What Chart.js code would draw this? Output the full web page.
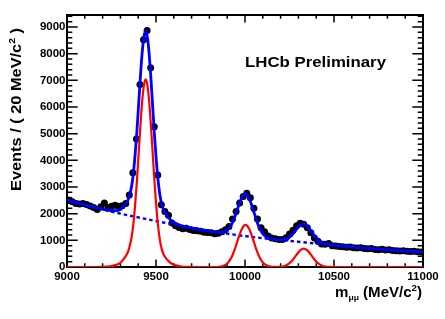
<!DOCTYPE html>
<html><head><meta charset="utf-8">
<script src="https://cdn.jsdelivr.net/npm/chart.js@4/dist/chart.umd.min.js"></script>
<style>html,body{margin:0;padding:0;background:#fff;}#wrap{width:445px;height:319px;position:relative;}</style>
</head><body><div id="wrap"><canvas id="c"></canvas></div>
<script>
// Binning of the dimuon mass histogram (MeV/c^2)
const binLow = 9000, binWidth = 20;
// Events per 20 MeV/c^2 bin, 9000-11000
const counts = [2510,2450,2380,2360,2380, 2340,2290,2230,2160,2260,
  2400,2230,2280,2320,2280, 2300,2380,2700,3530,4800,
  6840,8520,8870,7470,5260, 3450,2330,2080,1940,1650,
  1550,1480,1430,1450,1410, 1370,1360,1340,1300,1290,
  1280,1250,1270,1320,1400, 1520,1800,2080,2400,2640,
  2770,2600,2200,1800,1470, 1320,1160,1090,1060,1030,
  1030,1100,1240,1380,1550, 1640,1600,1470,1280,1090,
  970,860,850,880,800, 790,770,760,740,750,
  720,710,720,690,680, 690,660,650,670,640,
  650,620,610,600,610, 590,580,590,570,560];
// Total fit (solid blue)
const fitMass = [9000,9100,9192,9242,9272,9302,9322,9342,9352,9362,9372,9382,9392,9402,9412,9422,9432,9442,9452,9462,9472,9482,9492,9502,9512,9522,9532,9542,9562,9582,9612,9642,9692,9750,9820,9853,9883,9903,9923,9943,9963,9983,10003,10023,10043,10063,10083,10103,10123,10153,10180,10210,10230,10250,10270,10290,10310,10330,10350,10370,10390,10410,10430,10450,10480,10530,10600,10700,10800,10900,11000];
const fitTotal = [2510,2330,2178,2118,2115,2167,2299,2501,2707,2993,3459,4155,5021,6057,7094,8010,8627,8843,8600,7956,7013,5949,4886,3972,3229,2695,2362,2148,1921,1764,1634,1555,1473,1405,1330,1304,1320,1396,1577,1885,2275,2612,2738,2579,2208,1784,1442,1227,1117,1050,1027,1023,1048,1119,1249,1417,1563,1615,1536,1363,1169,1014,917,866,831,797,756,701,650,604,560];
// Signal components Y(1S), Y(2S), Y(3S) (red)
const sigMass = [9000,9150,9192,9242,9272,9302,9322,9342,9352,9362,9372,9382,9392,9402,9412,9422,9432,9442,9452,9462,9472,9482,9492,9502,9512,9522,9532,9542,9562,9582,9612,9642,9692,9750,9820,9853,9883,9903,9923,9943,9963,9983,10003,10023,10043,10063,10083,10103,10123,10153,10180,10210,10230,10250,10270,10290,10310,10330,10350,10370,10390,10410,10430,10450,10480,10530,11000];
const sigValues = [0,0,4,25,70,170,330,560,780,1080,1560,2270,3150,4200,5250,6180,6810,7040,6810,6180,5250,4200,3150,2250,1520,1000,680,480,280,150,60,20,3,0,0,7,53,149,348,674,1082,1437,1580,1437,1082,674,348,149,53,7,3,20,58,142,284,465,625,690,625,465,284,142,58,20,3,0,0];
// Background component (dashed blue)
const bkgMass = [9000,9100,9200,9300,9400,9500,9600,9700,9800,9900,10000,10100,10200,10300,10400,10500,10600,10700,10800,10900,11000];
const bkgValues = [2510,2330,2160,2000,1860,1725,1590,1460,1350,1250,1160,1080,1010,945,878,815,756,701,650,604,560];
// Axis ticks
const xTicks = [9000,9500,10000,10500,11000];
const yTicks = [0,1000,2000,3000,4000,5000,6000,7000,8000,9000];
const xRange = [9000, 11000], yRange = [0, 9450];

const FONT = '"Liberation Sans", Arial, Helvetica, sans-serif';
const pts = (xs, ys) => xs.map((x, i) => ({x, y: ys[i]}));
const dataPts = counts.map((c, i) => ({x: binLow + binWidth * (i + 0.5), y: c}));

// draw a run of text pieces (with sub/superscripts) stretched to a target length
function drawRich(ctx, parts, target) {
  let total = 0;
  parts.forEach(p => { ctx.font = p.f + FONT; p.w = ctx.measureText(p.t).width; total += p.w; });
  const k = target / total;
  ctx.save();
  ctx.scale(k, 1);
  let x = 0;
  parts.forEach(p => { ctx.font = p.f + FONT; ctx.fillText(p.t, x, p.dy); x += p.w; });
  ctx.restore();
}

const rootPlugin = {
  id: 'rootStyle',
  beforeDatasetsDraw(chart) {
    const ctx = chart.ctx, a = chart.chartArea;
    const xs = chart.scales.x, ys = chart.scales.y;
    ctx.save();
    ctx.strokeStyle = '#000';
    ctx.lineWidth = 1.5;
    ctx.beginPath();
    for (let v = xRange[0]; v <= xRange[1]; v += 100) {
      const px = xs.getPixelForValue(v);
      const L = (v % 500 === 0) ? 7.6 : 3.8;
      ctx.moveTo(px, a.bottom); ctx.lineTo(px, a.bottom - L);
      ctx.moveTo(px, a.top); ctx.lineTo(px, a.top + L);
    }
    for (let v = yRange[0]; v <= yRange[1]; v += 200) {
      const py = ys.getPixelForValue(v);
      const L = (v % 1000 === 0) ? 10.7 : 5.3;
      ctx.moveTo(a.left, py); ctx.lineTo(a.left + L, py);
      ctx.moveTo(a.right, py); ctx.lineTo(a.right - L, py);
    }
    ctx.stroke();
    ctx.lineWidth = 2;
    ctx.strokeRect(a.left, a.top, a.right - a.left, a.bottom - a.top);
    ctx.restore();
  },
  afterDraw(chart) {
    const ctx = chart.ctx;
    ctx.save();
    ctx.fillStyle = '#000';
    ctx.textBaseline = 'alphabetic';
    ctx.textAlign = 'left';
    // LHCb label
    ctx.save();
    ctx.translate(245, 67);
    drawRich(ctx, [{t: 'LHCb Preliminary', f: 'bold 15.5px ', dy: 0}], 141);
    ctx.restore();
    // x title, right aligned at the frame edge
    ctx.save();
    ctx.translate(335, 297);
    drawRich(ctx, [
      {t: 'm', f: 'bold 14px ', dy: 0},
      {t: 'μμ', f: 'bold 8px ', dy: 3},
      {t: ' (MeV/c', f: 'bold 14px ', dy: 0},
      {t: '2', f: 'bold 9px ', dy: -6},
      {t: ')', f: 'bold 14px ', dy: 0}
    ], 87);
    ctx.restore();
    // y title rotated
    ctx.save();
    ctx.translate(21, 191);
    ctx.rotate(-Math.PI / 2);
    drawRich(ctx, [
      {t: 'Events / ( 20 MeV/c', f: 'bold 14px ', dy: 0},
      {t: '2', f: 'bold 9px ', dy: -6},
      {t: ' )', f: 'bold 14px ', dy: 0}
    ], 163);
    ctx.restore();
    ctx.restore();
  }
};

new Chart(document.getElementById('c'), {
  type: 'line',
  data: {
    datasets: [
      {label: 'Total fit', data: pts(fitMass, fitTotal), borderColor: '#0000ff', borderWidth: 2.8,
       pointRadius: 0, cubicInterpolationMode: 'monotone', fill: false, order: 0},
      {label: 'Signal', data: pts(sigMass, sigValues), borderColor: '#ff0000', borderWidth: 2.2,
       pointRadius: 0, cubicInterpolationMode: 'monotone', fill: false, order: 1},
      {label: 'Background', data: pts(bkgMass, bkgValues), borderColor: '#0000ff', borderWidth: 2.4,
       borderDash: [3.5, 3], pointRadius: 0, cubicInterpolationMode: 'monotone', fill: false, order: 2},
      {label: 'Data', data: dataPts, showLine: false, pointRadius: 3.5, pointBackgroundColor: '#000',
       pointBorderColor: '#000', pointBorderWidth: 0, order: 3}
    ]
  },
  options: {
    responsive: true, maintainAspectRatio: false, animation: false,
    layout: {padding: {top: 15, right: 22, left: 0, bottom: 0}},
    plugins: {legend: {display: false}, tooltip: {enabled: false}},
    scales: {
      x: {
        type: 'linear', min: xRange[0], max: xRange[1],
        grid: {display: false, drawTicks: false}, border: {display: false},
        afterBuildTicks: s => { s.ticks = xTicks.map(v => ({value: v})); },
        afterFit: s => { s.height = 52; },
        ticks: {autoSkip: false, maxRotation: 0, padding: 3, color: '#000',
          font: {family: FONT, size: 11.5, weight: 'bold'}, callback: v => String(v)}
      },
      y: {
        type: 'linear', min: yRange[0], max: yRange[1],
        grid: {display: false, drawTicks: false}, border: {display: false},
        afterBuildTicks: s => { s.ticks = yTicks.map(v => ({value: v})); },
        afterFit: s => { s.width = 67; },
        ticks: {autoSkip: false, padding: 1.5, color: '#000',
          font: {family: FONT, size: 11.5, weight: 'bold'}, callback: v => String(v)}
      }
    }
  },
  plugins: [rootPlugin]
});
</script></body></html>
